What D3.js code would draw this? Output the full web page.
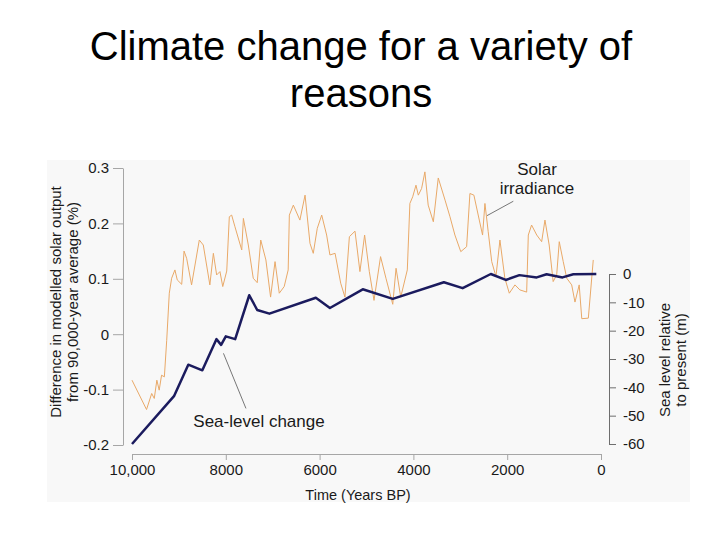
<!DOCTYPE html>
<html><head><meta charset="utf-8">
<script src="https://cdn.jsdelivr.net/npm/d3@7"></script>
<style>body{margin:0;background:#fff;} svg{display:block;font-family:"Liberation Sans",Arial,sans-serif;}</style>
</head><body>
<svg id="c" width="720" height="540"></svg>
<script>
// ---- data ----
const titleLines = ["Climate change for a variety of", "reasons"];
const xTicks = [10000, 8000, 6000, 4000, 2000, 0];
const xTickLabels = ["10,000", "8000", "6000", "4000", "2000", "0"];
const leftTicks = [0.3, 0.2, 0.1, 0, -0.1, -0.2];
const leftTickLabels = ["0.3", "0.2", "0.1", "0", "-0.1", "-0.2"];
const rightTicks = [0, -10, -20, -30, -40, -50, -60];
const rightTickLabels = ["0", "-10", "-20", "-30", "-40", "-50", "-60"];

// Solar irradiance: years BP and % difference
const solarYears = [10000,9690,9580,9525,9470,9420,9370,9310,9260,9205,9155,9085,9035,8940,8890,8835,8730,8565,8480,8340,8265,8195,8125,8065,7980,7925,7875,7805,7660,7625,7520,7415,7330,7255,7145,7045,6950,6860,6755,6670,6645,6560,6420,6310,6205,6135,6050,5955,5850,5780,5670,5550,5460,5365,5245,5140,5040,4940,4840,4700,4585,4440,4370,4270,4130,4075,4015,3945,3895,3825,3755,3685,3575,3470,3325,3220,3115,2990,2865,2795,2710,2595,2525,2475,2405,2330,2240,2155,2050,1955,1835,1730,1585,1550,1480,1370,1265,1195,1105,1020,945,890,805,730,625,555,465,410,270,165];
const solarValues = [-0.083,-0.136,-0.107,-0.116,-0.083,-0.101,-0.074,-0.077,-0.011,0.074,0.101,0.116,0.098,0.090,0.150,0.137,0.089,0.170,0.161,0.089,0.146,0.107,0.113,0.086,0.114,0.212,0.215,0.194,0.152,0.209,0.161,0.101,0.093,0.170,0.134,0.067,0.131,0.074,0.086,0.116,0.215,0.233,0.206,0.251,0.164,0.146,0.191,0.215,0.179,0.143,0.146,0.092,0.067,0.176,0.186,0.113,0.179,0.113,0.061,0.140,0.101,0.054,0.119,0.067,0.116,0.236,0.248,0.269,0.251,0.263,0.293,0.233,0.203,0.282,0.242,0.212,0.179,0.149,0.158,0.254,0.251,0.206,0.179,0.236,0.185,0.131,0.104,0.170,0.101,0.074,0.089,0.080,0.076,0.179,0.197,0.179,0.167,0.206,0.161,0.095,0.107,0.167,0.131,0.101,0.089,0.058,0.089,0.028,0.029,0.134];

// Sea level: years BP and metres relative to present
const seaYears = [10000,9100,8800,8500,8200,8100,8000,7800,7500,7330,7070,6080,5780,5080,4440,3350,2950,2350,2030,1740,1370,1160,820,590,100];
const seaValues = [-60,-43,-32,-34,-23,-25,-22,-23,-7.5,-12.7,-14,-8.4,-12,-5.4,-8.8,-2.9,-5,0,-2.1,-0.4,-1.2,-0.1,-1.2,-0.1,0];

// ---- drawing ----
const svg = d3.select("#c");

svg.append("rect").attr("x",47).attr("y",160).attr("width",643).attr("height",342).attr("fill","#f8f8f8");

const title = svg.append("text").attr("text-anchor","middle").attr("font-size",40).attr("fill","#000");
titleLines.forEach((t,i)=> title.append("tspan").attr("x",361).attr("y",60+i*47).text(t));

const x = d3.scaleLinear().domain([10000,0]).range([132,601]);
const yL = d3.scaleLinear().domain([-0.2,0.3]).range([445,168]);
const yR = d3.scaleLinear().domain([-60,0]).range([444,274]);

function styleAxis(g, lineColor){
  g.selectAll("path").attr("stroke",lineColor).attr("stroke-width",1);
  g.selectAll("line").attr("stroke",lineColor).attr("stroke-width",1);
  g.selectAll("text").attr("fill","#1a1a1a").attr("font-size",15).attr("font-family","Liberation Sans, Arial, sans-serif");
}

// left axis
const gL = svg.append("g").attr("transform","translate(123,0)")
  .call(d3.axisLeft(yL).tickValues(leftTicks).tickSize(10).tickSizeOuter(0).tickPadding(4)
    .tickFormat((d,i)=>leftTickLabels[i]));
styleAxis(gL,"#a6a6a6");

// bottom axis
const gB = svg.append("g").attr("transform","translate(0,454)")
  .call(d3.axisBottom(x).tickValues(xTicks).tickSize(6).tickSizeOuter(0).tickPadding(4)
    .tickFormat((d,i)=>xTickLabels[i]));
styleAxis(gB,"#a6a6a6");

// right axis
const gR = svg.append("g").attr("transform","translate(609,0)")
  .call(d3.axisRight(yR).tickValues(rightTicks).tickSize(7).tickSizeOuter(0).tickPadding(7)
    .tickFormat((d,i)=>rightTickLabels[i]));
styleAxis(gR,"#6e6e6e");

// axis titles
const lt = svg.append("text").attr("transform","translate(61,302) rotate(-90)")
  .attr("text-anchor","middle").attr("font-size",15).attr("fill","#1a1a1a");
lt.append("tspan").attr("x",0).attr("y",0).text("Difference in modelled solar output");
lt.append("tspan").attr("x",0).attr("y",17).text("from 90,000-year average (%)");

const rt = svg.append("text").attr("transform","translate(670,360) rotate(-90)")
  .attr("text-anchor","middle").attr("font-size",15).attr("fill","#1a1a1a");
rt.append("tspan").attr("x",0).attr("y",0).text("Sea level relative");
rt.append("tspan").attr("x",0).attr("y",16).text("to present (m)");

svg.append("text").attr("x",358).attr("y",500).attr("text-anchor","middle")
  .attr("font-size",14.5).attr("fill","#1a1a1a").text("Time (Years BP)");

// solar line
const solar = solarYears.map((yr,i)=>[yr,solarValues[i]]);
svg.append("path").datum(solar)
  .attr("d", d3.line().x(d=>x(d[0])).y(d=>yL(d[1])))
  .attr("fill","none").attr("stroke","#e9a968").attr("stroke-width",1);

// sea level line
const sea = seaYears.map((yr,i)=>[yr,seaValues[i]]);
svg.append("path").datum(sea)
  .attr("d", d3.line().x(d=>x(d[0])).y(d=>yR(d[1])))
  .attr("fill","none").attr("stroke","#1b1b5e").attr("stroke-width",2.5).attr("stroke-linejoin","round");

// annotations
svg.append("line").attr("x1",x(8050)).attr("y1",yR(-28)).attr("x2",x(7570)).attr("y2",yL(-0.134))
  .attr("stroke","#555").attr("stroke-width",0.8);
svg.append("text").attr("x",259).attr("y",427).attr("text-anchor","middle").attr("font-size",17)
  .attr("fill","#1a1a1a").text("Sea-level change");

svg.append("line").attr("x1",x(2430)).attr("y1",yL(0.214)).attr("x2",x(1870)).attr("y2",yL(0.24))
  .attr("stroke","#555").attr("stroke-width",0.8);
const sl = svg.append("text").attr("text-anchor","middle").attr("font-size",17).attr("fill","#1a1a1a");
sl.append("tspan").attr("x",537).attr("y",175).text("Solar");
sl.append("tspan").attr("x",537).attr("y",194).text("irradiance");
</script>
</body></html>
